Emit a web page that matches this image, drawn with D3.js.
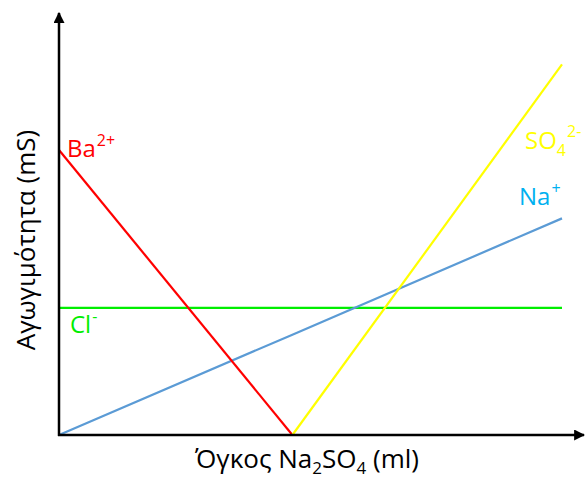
<!DOCTYPE html>
<html><head><meta charset="utf-8">
<script src="https://cdn.jsdelivr.net/npm/d3@7"></script>
<style>body{margin:0;background:#fff}svg{display:block}text{font-family:"Open Sans","Noto Sans",sans-serif}</style>
</head><body><svg id="c" width="586" height="479"></svg>
<script>
// Data (arbitrary units)
const volume = [0, 4.64, 10];           // x values: start, equivalence point, end
const ba = [10, 0, null];               // Ba2+ conductivity
const so4 = [null, 0, 13];              // SO4 2- conductivity
const na = [0, 3.52, 7.6];              // Na+ conductivity
const cl = [4.46, 4.46, 4.46];          // Cl- conductivity

const svg = d3.select("#c");
const x = d3.scaleLinear().domain([0, 10]).range([59, 562]);
const y = d3.scaleLinear().domain([0, 14.56]).range([435, 20]);

const defs = svg.append("defs");
defs.append("marker").attr("id","arr").attr("viewBox","0 0 10 10").attr("refX",9).attr("refY",5)
  .attr("markerWidth",4.4).attr("markerHeight",4.4).attr("orient","auto")
  .append("path").attr("d","M0,0L10,5L0,10z").attr("fill","#000");

const series = [
  {name:"Ba", vals: ba, color:"#ff0000"},
  {name:"SO4", vals: so4, color:"#ffff00"},
  {name:"Na", vals: na, color:"#5b9bd5"},
  {name:"Cl", vals: cl, color:"#00ee00"}
];
const line = d3.line().defined(d => d[1] !== null).x(d => x(d[0])).y(d => y(d[1]));
[series[3], series[2], series[0], series[1]].forEach(s => {
  svg.append("path").datum(volume.map((v,i)=>[v, s.vals[i]]))
    .attr("d", line).attr("fill","none").attr("stroke", s.color).attr("stroke-width", 2.2);
});

// axes
svg.append("line").attr("x1", x(0)).attr("y1", y(0)+1).attr("x2", x(0)).attr("y2", 13)
  .attr("stroke","#000").attr("stroke-width",2.5).attr("marker-end","url(#arr)");
svg.append("line").attr("x1", x(0)-1).attr("y1", y(0)).attr("x2", 584).attr("y2", y(0))
  .attr("stroke","#000").attr("stroke-width",2.5).attr("marker-end","url(#arr)");

// labels
function lab(xp, yp, main, sub, sup, color){
  const t = svg.append("text").attr("x", xp).attr("y", yp).attr("fill", color).attr("font-size", 24);
  t.append("tspan").text(main);
  if (sub) t.append("tspan").attr("font-size", 16).attr("dy", 7).text(sub);
  if (sup) t.append("tspan").attr("font-size", 16).attr("dx", 1).attr("dy", sub ? -19 : -11).text(sup);
}
lab(67, 157, "Ba", null, "2+", "#ff0000");
lab(525, 149, "SO", "4", "2-", "#ffff00");
lab(519, 205, "Na", null, "+", "#00b0f0");
lab(70, 333, "Cl", null, "-", "#00ee00");

// axis titles
const xt = svg.append("text").attr("x", 307).attr("y", 468).attr("text-anchor","middle").attr("font-size", 26).attr("fill","#000");
xt.append("tspan").text("Όγκος Na");
xt.append("tspan").attr("font-size", 17).attr("dy", 6).text("2");
xt.append("tspan").attr("dy", -6).text("SO");
xt.append("tspan").attr("font-size", 17).attr("dy", 6).text("4");
xt.append("tspan").attr("dy", -6).text(" (ml)");

svg.append("text").attr("transform","translate(35,240) rotate(-90)").attr("text-anchor","middle")
  .attr("font-size", 26).attr("fill","#000").text("Αγωγιμότητα (mS)");
</script></body></html>
